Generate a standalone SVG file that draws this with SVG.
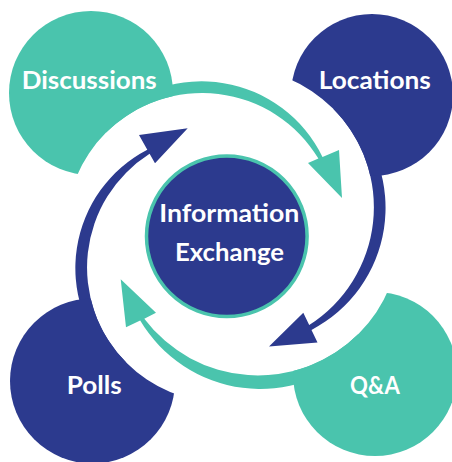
<svg xmlns="http://www.w3.org/2000/svg" width="452" height="462" viewBox="0 0 452 462">
<style>
.teal{fill:#4AC4AD}
.blue{fill:#2C3A8E}
.lbl{font-family:Lato,"Liberation Sans",sans-serif;font-weight:700;font-size:25px;fill:#FFFFFF;text-anchor:middle}
</style>
<defs>
<clipPath id="c1"><path clip-rule="evenodd" d="M-10-10H470V480H-10Z M66,229a136,136 0 1,0 272,0a136,136 0 1,0 -272,0Z"/></clipPath>
<clipPath id="c2"><path clip-rule="evenodd" d="M-10-10H470V480H-10Z M94.7,207.2a139.6,139.6 0 1,0 279.2,0a139.6,139.6 0 1,0 -279.2,0Z"/></clipPath>
<clipPath id="c3"><path clip-rule="evenodd" d="M-10-10H470V480H-10Z M115.7,233.1a142.3,142.3 0 1,0 284.6,0a142.3,142.3 0 1,0 -284.6,0Z"/></clipPath>
<clipPath id="c4"><path clip-rule="evenodd" d="M-10-10H470V480H-10Z M87,267.6a134.7,134.7 0 1,0 269.4,0a134.7,134.7 0 1,0 -269.4,0Z"/></clipPath>
</defs>
<rect width="452" height="462" fill="#FFFFFF"/>
<g id="connectors">
<path class="teal" d="M106.3,120.8 A134.6 134.6 0 0 1 322.5,156.9 L339,150 L342,198 L308,163 L318.4,158.6 A136 136 0 0 0 105.8,132.8 Z"/>
<path class="blue" d="M345.2,110.4 A137.7 137.7 0 0 1 311.5,329.9 L317.5,342.5 L269,346.5 L303.3,312.7 L309.2,325 A139.6 139.6 0 0 0 333,108.5 Z"/>
<path class="teal" d="M358.7,348.1 A139.3 139.3 0 0 1 140.2,320.4 L126,327.3 L120.7,279.3 L156,312.7 L144.3,318.7 A142.3 142.3 0 0 0 358.6,333.7 Z"/>
<path class="blue" d="M114.4,362.4 A133.3 133.3 0 0 1 147.3,149.8 L139,135 L187.7,128.3 L155,163.3 L149.6,153.8 A134.7 134.7 0 0 0 126.5,362.8 Z"/>
</g>
<g id="node-discussions">
<circle class="teal" cx="91" cy="93" r="82" clip-path="url(#c1)"/>
<text class="lbl" x="89.2" y="89.3" textLength="135" lengthAdjust="spacingAndGlyphs">Discussions</text>
</g>
<g id="node-locations">
<circle class="blue" cx="372" cy="95" r="81" clip-path="url(#c2)"/>
<text class="lbl" x="374.8" y="89.3" textLength="112" lengthAdjust="spacingAndGlyphs">Locations</text>
</g>
<g id="node-qa">
<circle class="teal" cx="375" cy="374" r="82" clip-path="url(#c3)"/>
<text class="lbl" x="375" y="394.3" textLength="50" lengthAdjust="spacingAndGlyphs">Q&amp;A</text>
</g>
<g id="node-polls">
<circle class="blue" cx="92.5" cy="381" r="82.5" clip-path="url(#c4)"/>
<text class="lbl" x="94.2" y="393.7" textLength="55" lengthAdjust="spacingAndGlyphs">Polls</text>
</g>
<g id="node-center">
<circle cx="226.8" cy="236.3" r="80.3" fill="#2C3A8E" stroke="#4AC4AD" stroke-width="3.5"/>
<text class="lbl" x="229.3" y="221.7" textLength="140" lengthAdjust="spacingAndGlyphs">Information</text>
<text class="lbl" x="229.5" y="260.7" textLength="109" lengthAdjust="spacingAndGlyphs">Exchange</text>
</g>
</svg>
